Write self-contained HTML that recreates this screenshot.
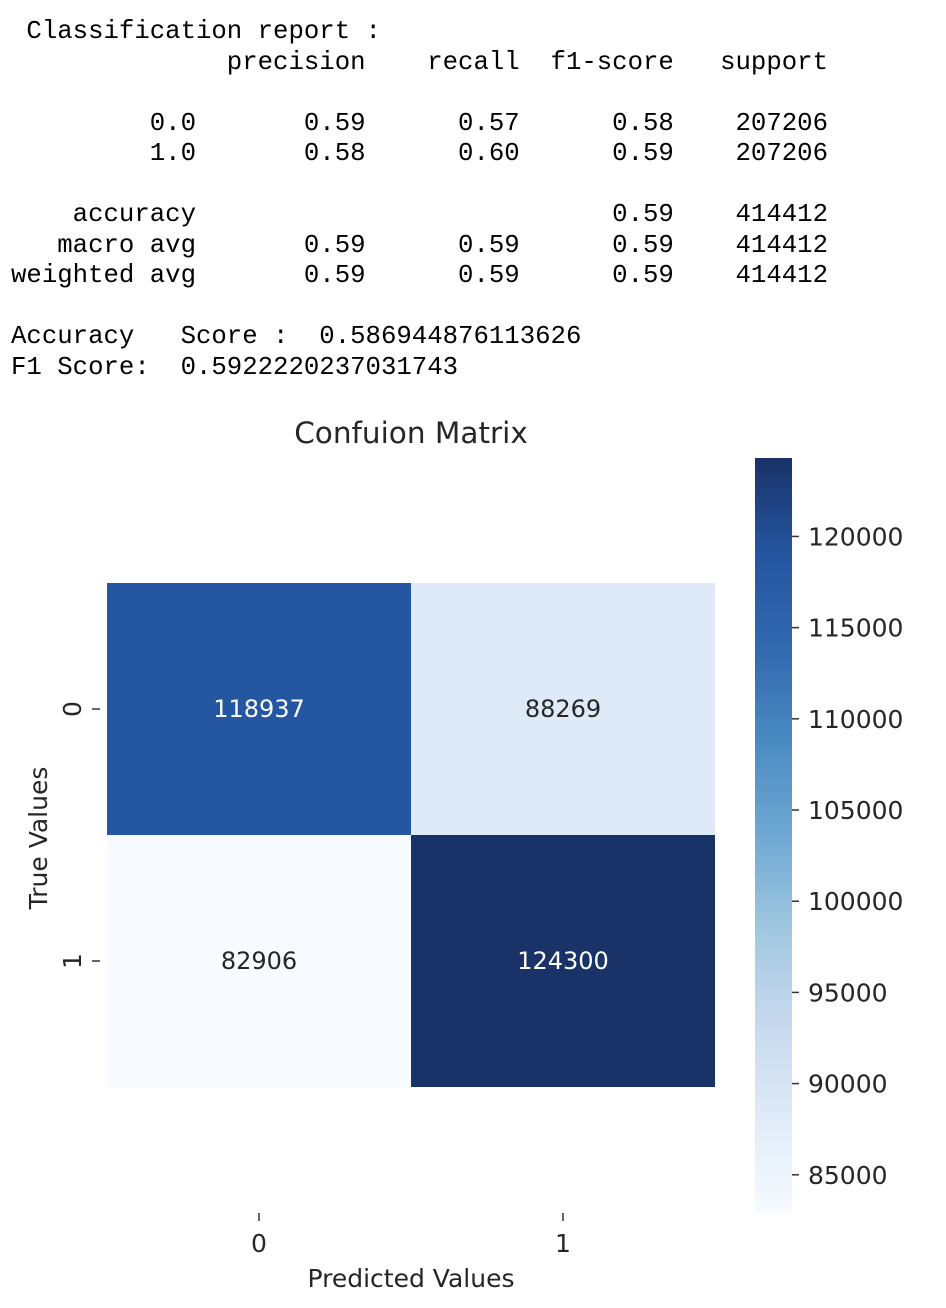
<!DOCTYPE html>
<html><head><meta charset="utf-8"><style>
body{margin:0;background:#fff;width:946px;height:1308px;overflow:hidden;position:relative}
pre{position:absolute;left:11px;top:17px;margin:0;font-family:"Liberation Mono",monospace;font-size:25.7px;line-height:30.5px;color:#000}
svg{position:absolute;left:0;top:0}
text{font-family:"DejaVu Sans","Liberation Sans",sans-serif}
</style></head><body>
<pre> Classification report :
              precision    recall  f1-score   support

         0.0       0.59      0.57      0.58    207206
         1.0       0.58      0.60      0.59    207206

    accuracy                           0.59    414412
   macro avg       0.59      0.59      0.59    414412
weighted avg       0.59      0.59      0.59    414412

Accuracy   Score :  0.586944876113626
F1 Score:  0.5922220237031743</pre>
<svg id="chart" width="946" height="1308"></svg>
<script>
const rowLabels=["0","1"];
const colLabels=["0","1"];
const values=[[118937,88269],[82906,124300]];
const cbTicks=[85000,90000,95000,100000,105000,110000,115000,120000];
const NS="http://www.w3.org/2000/svg";
const svg=document.getElementById('chart');
function el(t,a,p){const e=document.createElementNS(NS,t);for(const k in a)e.setAttribute(k,a[k]);(p||svg).appendChild(e);return e;}
const flat=values.flat();const vmin=Math.min(...flat),vmax=Math.max(...flat);
const stops=["#f7fbff","#dfebf7","#c8d9ee","#a0c7e0","#6fa8d2","#4a8bc2","#3168ae","#2555a0","#193268"];
function hex(h){return[1,3,5].map(i=>parseInt(h.substr(i,2),16));}
function cmap(t){t=Math.max(0,Math.min(1,t));const s=t*8,i=Math.min(7,Math.floor(s)),f=s-i;const a=hex(stops[i]),b=hex(stops[i+1]);return `rgb(${a.map((v,k)=>Math.round(v+(b[k]-v)*f)).join(',')})`;}
const X0=107,Y0=583,CW=304,CH=252;
const xPos=j=>X0+j*CW, yPos=i=>Y0+i*CH;
values.forEach((row,i)=>row.forEach((v,j)=>{
  const t=(v-vmin)/(vmax-vmin);
  const r=el('rect',{x:xPos(j),y:yPos(i),width:CW,height:CH,fill:cmap(t)});
  
  
  const tx=el('text',{x:xPos(j)+CW/2,y:yPos(i)+CH/2+8,'text-anchor':'middle','font-size':24,fill:t>0.5?'#fff':'#262626'});
  tx.textContent=v;
  
  
}));
colLabels.forEach((l,j)=>{
  const cx=xPos(j)+CW/2;
  el('line',{x1:cx,x2:cx,y1:1213,y2:1221,stroke:'#333','stroke-width':1.5});
  const t=el('text',{x:cx,y:1252,'text-anchor':'middle','font-size':25,fill:'#262626'});t.textContent=l;
  
  
});
rowLabels.forEach((l,i)=>{
  const cy=yPos(i)+CH/2;
  el('line',{x1:92,x2:100,y1:cy,y2:cy,stroke:'#333','stroke-width':1.5});
  const t=el('text',{x:81,y:cy,'text-anchor':'middle','font-size':25,fill:'#262626',transform:`rotate(-90 81 ${cy})`});t.textContent=l;
  
  
});
const title=el('text',{x:411,y:443,'text-anchor':'middle','font-size':29.5,fill:'#262626'});title.textContent='Confuion Matrix';


const xt=el('text',{x:411,y:1287,'text-anchor':'middle','font-size':25,fill:'#262626'});xt.textContent='Predicted Values';


const yt=el('text',{x:47,y:838,'text-anchor':'middle','font-size':25,fill:'#262626',transform:'rotate(-90 47 838)'});yt.textContent='True Values';


const CBX=755,CBW=37,CBT=458,CBB=1213;
const cbY=v=>CBB-(v-vmin)/(vmax-vmin)*(CBB-CBT);
const defs=el('defs',{});const g=el('linearGradient',{id:'cb',x1:0,y1:1,x2:0,y2:0},defs);
stops.forEach((c,k)=>el('stop',{offset:k/8,'stop-color':c},g));
const cb=el('rect',{x:CBX,y:CBT,width:CBW,height:CBB-CBT,fill:'url(#cb)'});


cbTicks.forEach(v=>{
  const y=cbY(v);
  el('line',{x1:CBX+CBW,x2:CBX+CBW+7,y1:y,y2:y,stroke:'#333','stroke-width':1.5});
  const t=el('text',{x:CBX+CBW+16,y:y+9,'font-size':25,fill:'#262626'});t.textContent=v;
  
  
});
</script>
</body></html>
